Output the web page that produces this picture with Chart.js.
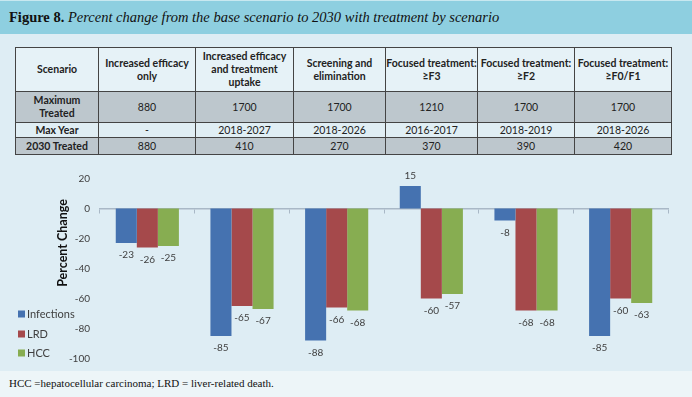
<!DOCTYPE html>
<html>
<head>
<meta charset="utf-8">
<script src="https://cdn.jsdelivr.net/npm/chart.js@4/dist/chart.umd.min.js"></script>
<style>
  html, body { margin:0; padding:0; }
  body { width:692px; height:397px; background:#deedf4; position:relative; overflow:hidden; }
  #hdr { position:absolute; left:0; top:0; width:692px; height:34px; background:#8ecfe0; border-top:1px solid #c8e8f0; box-sizing:border-box; }
  #hdr .t { position:absolute; left:9px; top:8px; font-family:"Liberation Serif", serif; font-size:14.5px; color:#111; white-space:nowrap; }
  #hdr b { font-weight:bold; }
  #hdr i { font-style:italic; }
  table { position:absolute; left:15px; top:47px; border-collapse:collapse; font-family:Lato,sans-serif; font-size:10.5px; color:#222; table-layout:fixed; }
  td { border:1px solid #444; text-align:center; vertical-align:middle; padding:0; line-height:13px; white-space:nowrap; overflow:hidden; }
  tr.h td { background:#e6f2f7; font-weight:bold; height:43px; }
  tr.g td { background:#bdc7cd; }
  tr.l td { background:#e0eef4; }
  td.f { font-weight:bold; }
  #foot { position:absolute; left:0; top:371px; width:692px; height:26px; background:#edf5f8; }
  #foot span { position:absolute; left:9px; top:6px; font-family:"Liberation Serif", serif; font-size:11px; color:#111; white-space:nowrap; }
  #cw { position:absolute; left:0; top:160px; width:692px; height:224px; }
</style>
</head>
<body>
<div id="hdr"><div class="t"><b>Figure 8.</b> <i>Percent change from the base scenario to 2030 with treatment by scenario</i></div></div>
<table>
  <colgroup><col style="width:83px"><col style="width:97px"><col style="width:98px"><col style="width:92px"><col style="width:92px"><col style="width:97px"><col style="width:97px"></colgroup>
  <tr class="h"><td>Scenario</td><td>Increased efficacy<br>only</td><td>Increased efficacy<br>and treatment<br>uptake</td><td>Screening and<br>elimination</td><td>Focused treatment:<br>≥F3</td><td>Focused treatment:<br>≥F2</td><td>Focused treatment:<br>≥F0/F1</td></tr>
  <tr class="g" style="height:31px"><td class="f">Maximum<br>Treated</td><td>880</td><td>1700</td><td>1700</td><td>1210</td><td>1700</td><td>1700</td></tr>
  <tr class="l" style="height:15px"><td class="f">Max Year</td><td>-</td><td>2018-2027</td><td>2018-2026</td><td>2016-2017</td><td>2018-2019</td><td>2018-2026</td></tr>
  <tr class="g" style="height:17px"><td class="f">2030 Treated</td><td>880</td><td>410</td><td>270</td><td>370</td><td>390</td><td>420</td></tr>
</table>
<div id="cw"><canvas id="c" width="692" height="224"></canvas></div>
<div id="foot"><span>HCC =hepatocellular carcinoma; LRD = liver-related death.</span></div>
<script>
const categories = ["Increased efficacy only", "Increased efficacy and treatment uptake", "Screening and elimination", "Focused treatment: ≥F3", "Focused treatment: ≥F2", "Focused treatment: ≥F0/F1"];
const infections = [-23, -85, -88, 15, -8, -85];
const lrd = [-26, -65, -66, -60, -68, -60];
const hcc = [-25, -67, -68, -57, -68, -63];
const yTicks = [20, 0, -20, -40, -60, -80, -100];
const seriesNames = ["Infections", "LRD", "HCC"];
const axisTitle = "Percent Change";

const FONT = 'Lato,sans-serif';
const TXT = '#404040';

const labelsPlugin = {
  id: 'barLabels',
  afterDatasetsDraw(chart) {
    const ctx = chart.ctx;
    ctx.save();
    ctx.font = '10px ' + FONT;
    ctx.fillStyle = TXT;
    ctx.textAlign = 'center';
    ctx.textBaseline = 'middle';
    chart.data.datasets.forEach((ds, i) => {
      chart.getDatasetMeta(i).data.forEach((bar, j) => {
        const v = ds.data[j];
        const y = v < 0 ? bar.y + 12 : bar.y - 10;
        ctx.fillText(String(v), bar.x, y);
      });
    });
    ctx.restore();
  }
};

const legendPlugin = {
  id: 'customLegend',
  afterDraw(chart) {
    const ctx = chart.ctx;
    ctx.save();
    const ys = [154, 174, 193];
    ctx.font = '11px ' + FONT;
    ctx.textBaseline = 'middle';
    chart.data.datasets.forEach((ds, i) => {
      ctx.fillStyle = ds.backgroundColor;
      ctx.fillRect(18, ys[i] - 3.5, 7, 7);
      ctx.fillStyle = TXT;
      ctx.textAlign = 'left';
      ctx.fillText(ds.label, 27, ys[i]);
    });
    ctx.translate(63, 83);
    ctx.rotate(-Math.PI / 2);
    ctx.font = 'bold 12.5px ' + FONT;
    ctx.fillStyle = '#111';
    ctx.textAlign = 'center';
    ctx.textBaseline = 'middle';
    ctx.fillText(axisTitle, 0, 0);
    ctx.restore();
  }
};

const colors = ['#4572b0', '#a5494b', '#87ad51'];
const series = [infections, lrd, hcc];

new Chart(document.getElementById('c'), {
  type: 'bar',
  data: {
    labels: categories,
    datasets: series.map((d, i) => ({
      label: seriesNames[i],
      data: d,
      backgroundColor: colors[i],
      borderWidth: 0,
      categoryPercentage: 0.667,
      barPercentage: 1.0
    }))
  },
  options: {
    responsive: false,
    animation: false,
    devicePixelRatio: 1,
    layout: { padding: { left: 50, right: 24, top: 18.5, bottom: 25.5 } },
    plugins: { legend: { display: false }, tooltip: { enabled: false } },
    scales: {
      x: {
        position: { y: 0 },
        afterFit(s) { s.height = 0; },
        ticks: { display: false },
        grid: { display: true, drawOnChartArea: false, drawTicks: true, tickLength: 4, color: '#a9b8c6', offset: true },
        border: { display: true, color: '#a9b8c6', width: 1.5 }
      },
      y: {
        min: -100, max: 20,
        afterFit(s) { s.width = 50; },
        afterBuildTicks(s) { s.ticks = yTicks.map(v => ({ value: v })); },
        ticks: { padding: 10, color: TXT, font: { family: FONT, size: 10 } },
        grid: { display: false, drawTicks: false },
        border: { display: false }
      }
    }
  },
  plugins: [labelsPlugin, legendPlugin]
});
</script>
</body>
</html>
